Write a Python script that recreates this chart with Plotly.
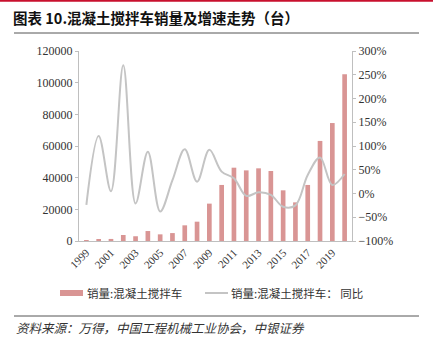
import plotly.graph_objects as go

years = list(range(1999, 2021))
sales = [500, 900, 1300, 3800, 3000, 6300, 4200, 5000, 9900, 12200, 23600,
         35400, 46300, 44600, 45900, 44200, 32000, 24400, 35400, 63200, 74500, 105300]
yoy = [-24, 121, 5, 270, -21, 88, -38, 28, 93, 25, 92,
       46, 32, -5, 2.5, -3, -28, -25, 39, 76, 18, 41]
tick_years = list(range(1999, 2020, 2))

bar_name = "销量:混凝土搅拌车"
line_name = "销量:混凝土搅拌车： 同比"

serif = "Liberation Serif"
cjk = "Noto Sans CJK SC"
bar_color = "#d99594"
line_color = "#c4c4c4"

W, H = 273, 190  # plot area px
def px(x):
    return (x - 79) / W
def py(y):
    return (241 - y) / H

fig = go.Figure()
fig.add_trace(go.Bar(x=years, y=sales, name=bar_name, marker_color=bar_color,
                     marker_line_width=0, yaxis="y"))
fig.add_trace(go.Scatter(x=years, y=yoy, name=line_name, mode="lines",
                         line=dict(color=line_color, width=2, shape="spline", smoothing=1.0),
                         yaxis="y2"))

fig.update_layout(
    width=433, height=344,
    margin=dict(l=79, r=81, t=51, b=103, autoexpand=False),
    paper_bgcolor="white", plot_bgcolor="white",
    bargap=0.62,
    showlegend=False,
    xaxis=dict(range=[1998.4, 2020.6], tickmode="array", tickvals=tick_years,
               ticktext=[str(y) for y in tick_years], tickangle=-45,
               tickfont=dict(family=serif, size=11, color="#333333"),
               showline=True, linecolor="#bfbfbf", linewidth=1, showgrid=False,
               ticks="", zeroline=False),
    yaxis=dict(range=[0, 120000], dtick=20000, tickformat="d",
               tickfont=dict(family=serif, size=12, color="#333333"),
               showline=True, linecolor="#bfbfbf", linewidth=1, showgrid=False,
               ticks="outside", ticklen=3, tickcolor="#bfbfbf", zeroline=False),
    yaxis2=dict(range=[-100, 300], dtick=50, ticksuffix="%", overlaying="y", side="right",
                tickfont=dict(family=serif, size=12, color="#333333"),
                showline=True, linecolor="#bfbfbf", linewidth=1, showgrid=False,
                ticks="outside", ticklen=3, tickcolor="#bfbfbf", zeroline=False),
    font=dict(family=serif),
)

# header / footer rules
fig.add_shape(type="line", xref="paper", yref="paper", x0=px(0), x1=px(433),
              y0=py(0.5), y1=py(0.5), line=dict(color="#c8102e", width=2.5))
fig.add_shape(type="line", xref="paper", yref="paper", x0=px(14), x1=px(419),
              y0=py(33), y1=py(33), line=dict(color="#555555", width=1))
fig.add_shape(type="line", xref="paper", yref="paper", x0=px(14), x1=px(419),
              y0=py(316), y1=py(316), line=dict(color="#555555", width=1))

# manual legend
fig.add_shape(type="rect", xref="paper", yref="paper", x0=px(60), x1=px(83),
              y0=py(296), y1=py(290), line=dict(width=0), fillcolor=bar_color)
fig.add_annotation(text=bar_name, xref="paper", yref="paper", x=px(85), y=py(293),
                   xanchor="left", yanchor="middle", showarrow=False,
                   font=dict(family=cjk, size=11.5, color="#333333"))
fig.add_shape(type="line", xref="paper", yref="paper", x0=px(205), x1=px(228),
              y0=py(293), y1=py(293), line=dict(color=line_color, width=2))
fig.add_annotation(text=line_name, xref="paper", yref="paper", x=px(229), y=py(293),
                   xanchor="left", yanchor="middle", showarrow=False,
                   font=dict(family=cjk, size=11.5, color="#333333"))

fig.add_annotation(text="<b>图表 10.混凝土搅拌车销量及增速走势（台）</b>", xref="paper", yref="paper",
                   x=px(11), y=py(17), xanchor="left", yanchor="middle", showarrow=False,
                   font=dict(family=cjk, size=14.5, color="#111111"))
fig.add_annotation(text="<i>资料来源：万得，中国工程机械工业协会，中银证券</i>", xref="paper", yref="paper",
                   x=px(14), y=py(327), xanchor="left", yanchor="middle", showarrow=False,
                   font=dict(family=cjk, size=12.5, color="#333333"))

fig.write_html("out.html")
